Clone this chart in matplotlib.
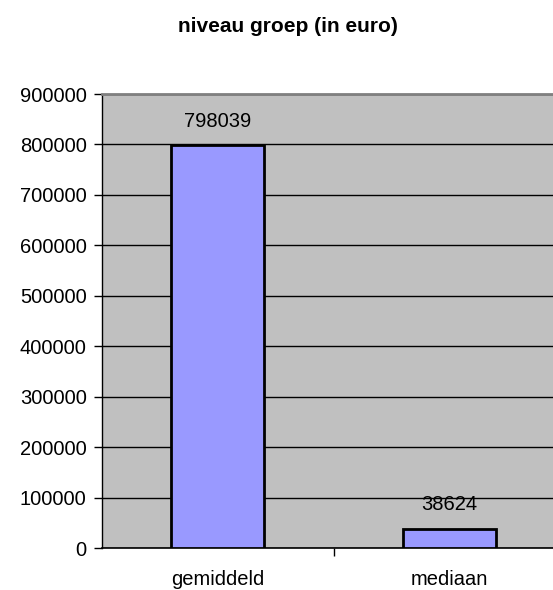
import matplotlib.pyplot as plt
from matplotlib.ticker import FixedLocator

plt.rcParams["font.family"] = ["Liberation Sans", "DejaVu Sans"]

# Groepsniveau, bedragen in euro
categories = ["gemiddeld", "mediaan"]
values = [798039, 38624]
y_ticks = [0, 100000, 200000, 300000, 400000, 500000, 600000, 700000, 800000, 900000]

W, H = 553, 590
fig = plt.figure(figsize=(W / 100, H / 100), dpi=100)

# plot area runs past the right edge of the figure
left, right, top, bottom = 102, 565, 94, 548
ax = fig.add_axes([left / W, 1 - bottom / H, (right - left) / W, (bottom - top) / H])
ax.set_facecolor("#C0C0C0")

FS = 14.5
x = range(len(categories))
ax.bar(x, values, width=0.40, color="#9999FF", edgecolor="black", linewidth=2, zorder=3)
for xi, v in zip(x, values):
    ax.annotate(f"{v}", (xi, v), xytext=(0, 17.5), textcoords="offset points",
                ha="center", va="center", fontsize=FS, zorder=4)

ax.set_xlim(-0.5, len(categories) - 0.5)
ax.set_ylim(0, y_ticks[-1])
ax.set_yticks(y_ticks)
ax.set_yticklabels([str(t) for t in y_ticks], fontsize=FS)
ax.yaxis.grid(True, color="black", linewidth=1, zorder=1)
ax.set_axisbelow(True)

# category labels centred under bars, tick marks between categories
ax.set_xticks(list(x))
ax.set_xticklabels(categories, fontsize=FS)
ax.tick_params(axis="x", length=0, pad=16)
ax.xaxis.set_minor_locator(FixedLocator([0.5]))
ax.tick_params(axis="x", which="minor", length=6, width=1, color="black")
ax.tick_params(axis="y", length=6, width=1, pad=5)

ax.spines["top"].set_color("#808080")
ax.spines["top"].set_linewidth(2)
ax.spines["right"].set_visible(False)
ax.spines["left"].set_color("black")
ax.spines["bottom"].set_color("black")
ax.spines["left"].set_linewidth(1)
ax.spines["bottom"].set_linewidth(1.2)

fig.text(288 / W, 1 - 27 / H, "niveau groep (in euro)", ha="center", va="center",
         fontsize=15, fontweight="bold")

fig.savefig("out.png", dpi=100, facecolor="white")
